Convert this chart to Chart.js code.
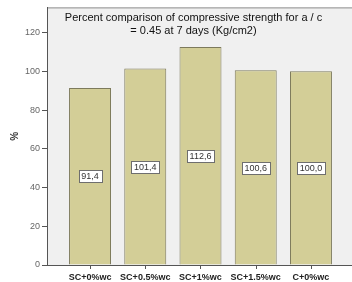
<!DOCTYPE html>
<html><head><meta charset="utf-8">
<script src="https://cdn.jsdelivr.net/npm/chart.js@4"></script>
<style>html,body{margin:0;padding:0;background:#fff;overflow:hidden}#w{width:352px;height:282px;position:relative}</style>
</head><body><div id="w"><canvas id="c" width="352" height="282"></canvas></div>
<script>
const categories = ["SC+0%wc", "SC+0.5%wc", "SC+1%wc", "SC+1.5%wc", "C+0%wc"];
const values = [91.4, 101.4, 112.6, 100.6, 100.0];
const valueLabels = ["91,4", "101,4", "112,6", "100,6", "100,0"];
const yTicks = [0, 20, 40, 60, 80, 100, 120];
const titleLines = ["Percent comparison of compressive strength for a / c", "= 0.45 at 7 days (Kg/cm2)"];
const yTitle = "%";

const FONT = "'Liberation Sans', Arial, sans-serif";

const bgPlugin = {
  id: 'bg',
  beforeDraw(chart) {
    const {ctx, chartArea: a} = chart;
    ctx.save();
    ctx.fillStyle = '#f0f0f0';
    ctx.fillRect(a.left, a.top, a.right - a.left, a.bottom - a.top);
    ctx.strokeStyle = '#8c8c8c';
    ctx.lineWidth = 1;
    ctx.beginPath();
    ctx.moveTo(a.left, a.top + 0.5);
    ctx.lineTo(a.right, a.top + 0.5);
    ctx.stroke();
    ctx.restore();
  },
  afterDraw(chart) {
    const {ctx, chartArea: a, scales} = chart;
    ctx.save();
    ctx.fillStyle = '#111';
    ctx.font = "11px " + FONT;
    ctx.textAlign = 'center';
    ctx.textBaseline = 'middle';
    const cx = 193.5;
    ctx.fillText(titleLines[0], cx, 18);
    ctx.fillText(titleLines[1], cx, 31);
    ctx.font = "9px " + FONT;
    const meta = chart.getDatasetMeta(0);
    meta.data.forEach((bar, i) => {
      const x = bar.x;
      const y = scales.y.getPixelForValue(values[i] / 2);
      const tw = ctx.measureText(valueLabels[i]).width;
      const w = Math.round(tw + 5), h = 12;
      const bx = Math.round(x - w / 2) + 0.5, by = Math.round(y - h / 2) + 0.5;
      ctx.fillStyle = '#ffffff';
      ctx.fillRect(bx, by, w, h);
      ctx.strokeStyle = '#6e6e6e';
      ctx.lineWidth = 1;
      ctx.strokeRect(bx, by, w, h);
      ctx.fillStyle = '#333';
      ctx.fillText(valueLabels[i], x, y + 0.5);
    });
    ctx.strokeStyle = '#555';
    ctx.beginPath();
    meta.data.forEach(bar => {
      const x = Math.round(bar.x) + 0.5;
      ctx.moveTo(x, a.bottom);
      ctx.lineTo(x, a.bottom + 4);
    });
    ctx.stroke();
    ctx.restore();
  }
};

new Chart(document.getElementById('c'), {
  type: 'bar',
  data: {
    datasets: [{
      data: values.map((v, i) => ({x: i + 1, y: v})),
      backgroundColor: '#d3ce97',
      borderColor: '#7d7a5c',
      borderWidth: 1,
      barPercentage: 0.76,
      categoryPercentage: 1.0
    }]
  },
  plugins: [bgPlugin],
  options: {
    responsive: false,
    animation: false,
    layout: {padding: {left: 9, right: 0, top: 6, bottom: 0}},
    plugins: {legend: {display: false}, tooltip: {enabled: false}, title: {display: false}},
    scales: {
      x: {
        type: 'linear',
        min: 0.221,
        max: 5.743,
        offset: false,
        grid: {display: false, drawTicks: false},
        border: {display: true, color: '#555'},
        afterBuildTicks(axis) { axis.ticks = categories.map((c, i) => ({value: i + 1})); },
        afterFit(axis) { axis.height = 17; },
        ticks: {
          autoSkip: false,
          maxRotation: 0,
          padding: 7,
          color: '#222',
          font: {family: FONT, size: 9, weight: 'bold'},
          callback: (v) => categories[v - 1]
        }
      },
      y: {
        min: 0,
        max: 133,
        afterBuildTicks(axis) { axis.ticks = yTicks.map(v => ({value: v})); },
        afterFit(axis) { axis.width = 38; },
        grid: {display: true, drawOnChartArea: false, drawTicks: true, tickLength: 5, tickColor: '#555'},
        border: {display: true, color: '#555'},
        ticks: {color: '#666', padding: 2, font: {family: FONT, size: 9}},
        title: {display: true, text: yTitle, color: '#333', font: {family: FONT, size: 10, weight: 'bold'}, padding: {top: 0, bottom: 1}}
      }
    }
  }
});
</script></body></html>
